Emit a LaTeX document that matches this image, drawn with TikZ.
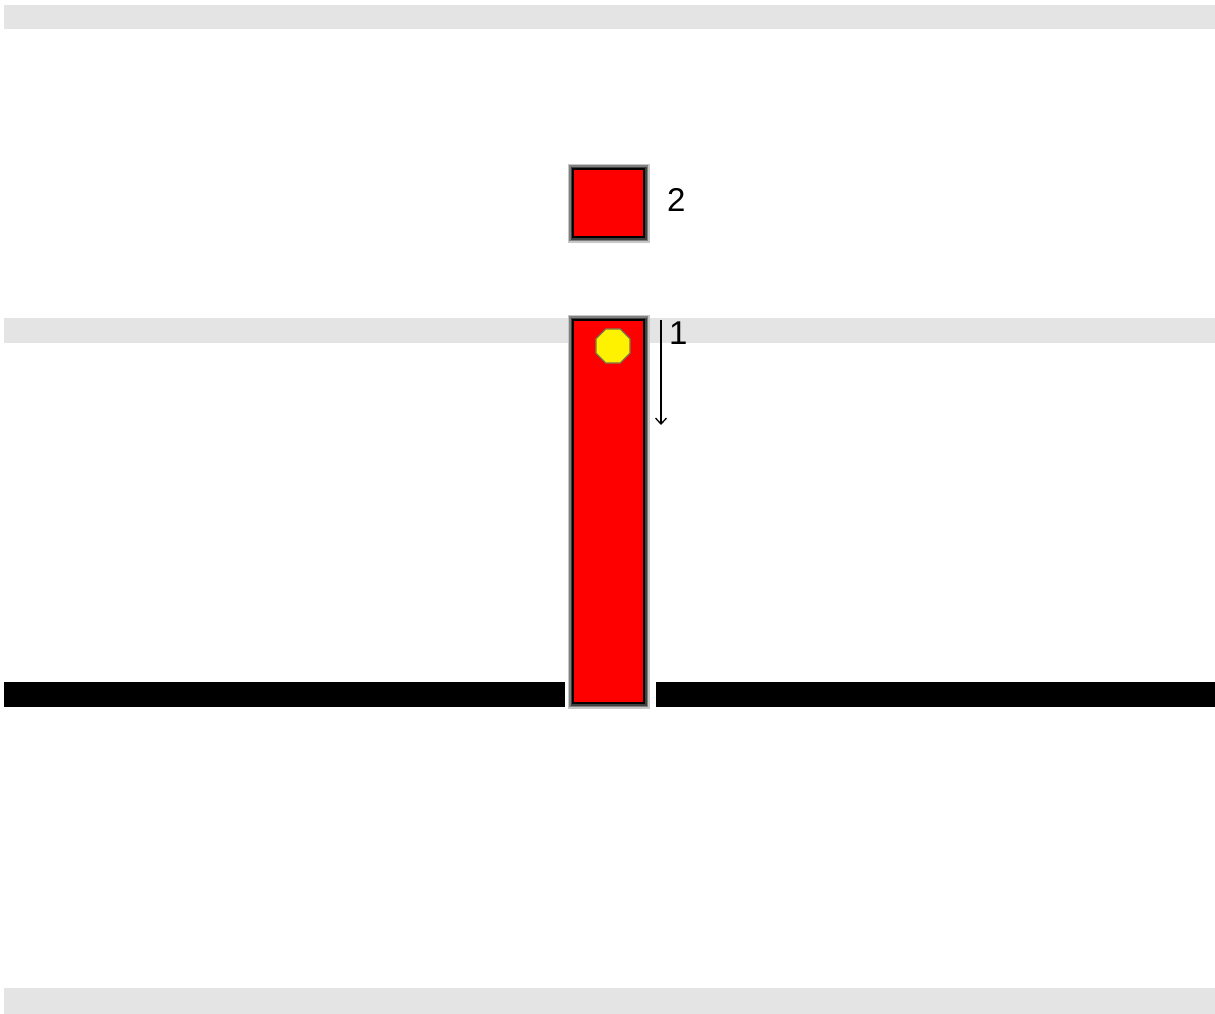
\documentclass[tikz,border=0pt]{standalone}
\usepackage{fontspec}
\setmainfont{Liberation Sans}
\usetikzlibrary{shapes.geometric,arrows.meta}
\definecolor{band}{HTML}{E4E4E4}
\tikzset{
  x=1pt, y=-1pt,
  bandstyle/.style={fill=band, draw=none},
  redbox/.style={draw=black, line width=2.5pt, fill=red, inner sep=0pt, outer sep=0pt},
  halo/.style={draw=black!22, line width=11pt},
  halomid/.style={draw=black!50, line width=8pt},
  haloin/.style={draw=black!75, line width=5pt},
  floorline/.style={fill=black, draw=none},
  lbl/.style={font=\fontsize{33}{36}\selectfont, inner sep=0pt, anchor=west},
  ball/.style={regular polygon, regular polygon sides=8, draw=black!60!yellow, line width=1.2pt, fill=yellow, minimum size=37pt, inner sep=0pt}
}
\begin{document}
\begin{tikzpicture}
\useasboundingbox (0,0) rectangle (1215,1014);
\fill[white] (0,0) rectangle (1215,1014);
% bands
\fill[bandstyle] (4,5) rectangle (1215,29);
\fill[bandstyle] (4,318) rectangle (1215,343);
\fill[bandstyle] (4,988) rectangle (1215,1014);
% floor line
\fill[floorline] (4,682) rectangle (565,707);
\fill[floorline] (656,682) rectangle (1215,707);
% halos (blurred shadow look)
\foreach \s in {halo,halomid,haloin}{
  \draw[\s] (573,169) rectangle (644,237);
  \draw[\s] (573,320) rectangle (644,703);
}
% square 2
\draw[redbox] (573,169) rectangle (644,237);
\node[lbl] (two) at (667,200) {2};
% bar
\draw[redbox] (573,320) rectangle (644,703);
\node[ball] (ball) at (613,346) {};
% arrow
\coordinate (aStart) at (661,320);
\coordinate (aEnd) at (661,425);
\draw[line width=1.3pt, -{Straight Barb[length=6pt,width=11pt]}] (aStart) -- (aEnd);
\node[lbl] (one) at (669,333) {1};
\end{tikzpicture}
\end{document}
